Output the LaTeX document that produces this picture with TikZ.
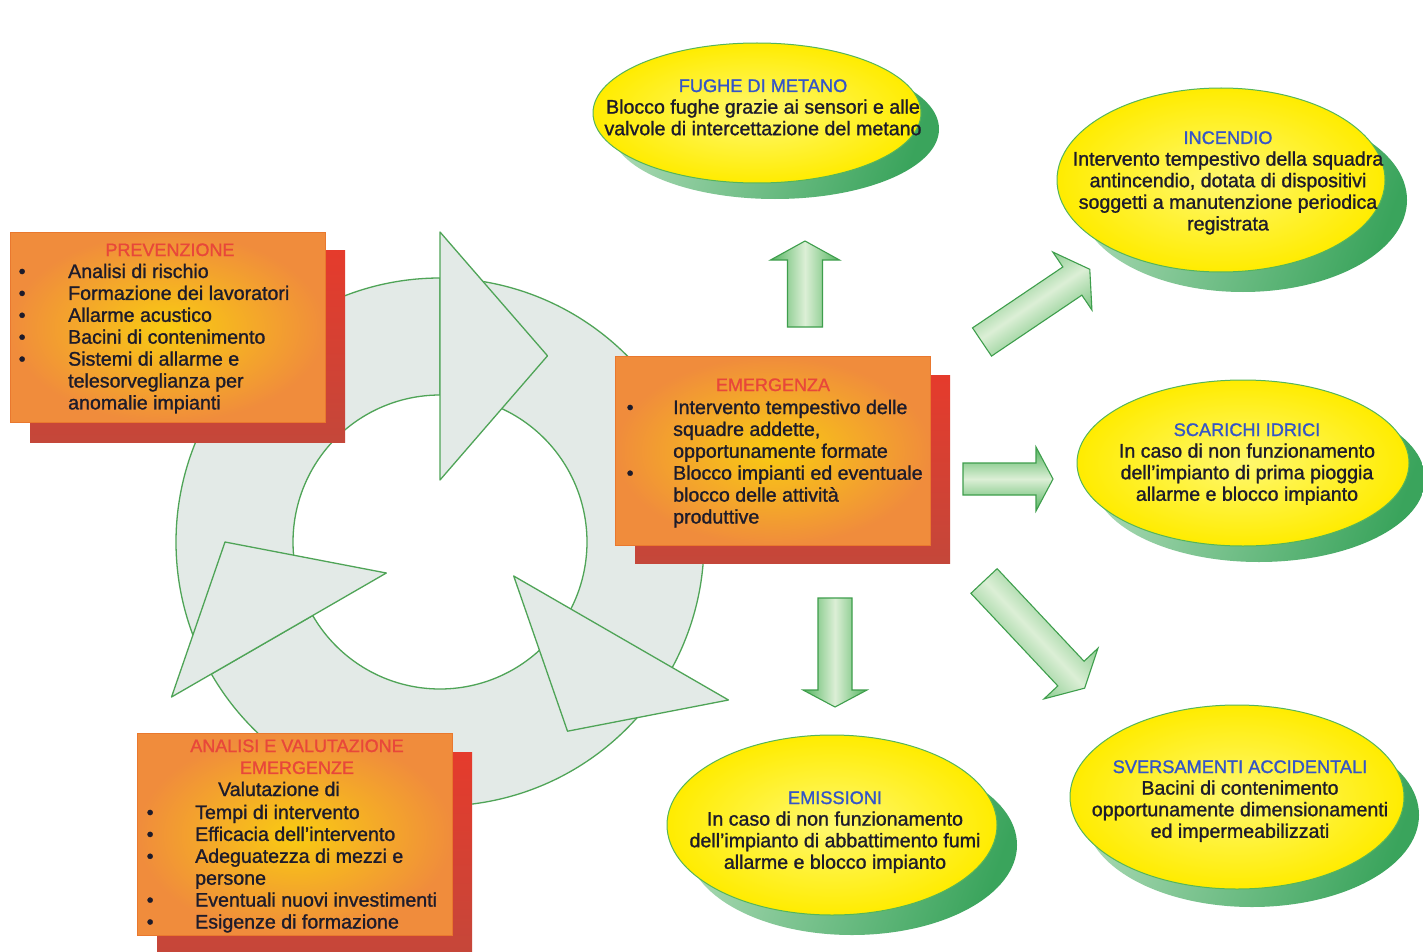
\documentclass[tikz,border=0pt]{standalone}
\usepackage{fontspec}
\setmainfont{Liberation Sans}[FakeBold=1.2]
\usetikzlibrary{calc}
\definecolor{cycfill}{HTML}{E3EAE7}
\definecolor{cycline}{HTML}{4FA457}
\definecolor{boxin}{HTML}{F9CB12}
\definecolor{boxout}{HTML}{F08C3C}
\definecolor{boxline}{HTML}{E9782E}
\definecolor{shadtop}{HTML}{E53B2C}
\definecolor{shadbot}{HTML}{C4473A}
\definecolor{titlered}{HTML}{E8473A}
\definecolor{textdark}{HTML}{1D1B2B}
\definecolor{ellin}{HTML}{FFF870}
\definecolor{ellout}{HTML}{FFEC00}
\definecolor{ellline}{HTML}{55B55A}
\definecolor{eshl}{HTML}{A9D9B3}
\definecolor{eshr}{HTML}{3AA45C}
\definecolor{titleblue}{HTML}{3455C8}
\definecolor{arrg}{HTML}{52B45E}
\definecolor{arrl}{HTML}{DCEFD6}
\definecolor{arrline}{HTML}{3E9E4C}
\tikzset{
  cyc/.style={fill=cycfill, draw=cycline, line width=1.3pt, line join=round},
  boxfront/.style={inner color=boxin, outer color=boxout, draw=boxline, line width=0.8pt, anchor=north west, inner sep=0},
  boxshadow/.style={top color=shadtop, bottom color=shadbot, anchor=north west, inner sep=0},
  ellfront/.style={inner color=ellin, outer color=ellout, draw=ellline, line width=1pt},
  ellshadow/.style={left color=eshl, right color=eshr, shading angle=70},
  blockarrow/.style={left color=arrg, right color=arrg, middle color=arrl, draw=arrline, line width=1.1pt, line join=miter},
  listtext/.style={anchor=base west, inner sep=0, font=\fontsize{19.6}{21.9}\selectfont, text=textdark},
  boxtitle/.style={anchor=base, inner sep=0, font=\fontsize{18}{21.9}\selectfont, text=titlered},
  plaintext/.style={anchor=base, inner sep=0, font=\fontsize{19.6}{21.9}\selectfont, text=textdark},
  elltext/.style={anchor=base, inner sep=0, font=\fontsize{19.6}{21.6}\selectfont, text=textdark}
}
\newcommand\cycband[2]{%
  \path[cyc] ($(C)+({-(#1)}:264)$) arc[start angle={-(#1)}, end angle={-(#2)}, radius=264]
    -- ($(C)+({-(#2)}:147)$) arc[start angle={-(#2)}, end angle={-(#1)}, radius=147] -- cycle;}
\newcommand\cychead[2]{%
  \path[cyc] ($(#1)+({-(#2)}:62)$) -- ($(#1)+({-(#2)}:310)$) -- ($(#1)+({30-(#2)}:215)$) -- cycle;}
% x, y, angle, length, shaft width, head width, head length
\newcommand\blockarr[7]{%
  \path[blockarrow, shading angle=#3] [shift={(#1,#2)}, rotate=#3]
    (0,{-#5/2}) -- ({#4-#7},{-#5/2}) -- ({#4-#7},{-#6/2}) -- (#4,0)
    -- ({#4-#7},{#6/2}) -- ({#4-#7},{#5/2}) -- (0,{#5/2}) -- cycle;}
% cx, cy, rx, ry, dx, dy
\newcommand\gellipse[6]{%
  \path[ellshadow] ({#1+#5},{#2+#6}) ellipse [x radius=#3, y radius=#4];
  \path[ellfront] (#1,#2) ellipse [x radius=#3, y radius=#4];}
\newcommand\etitle[1]{\textcolor{titleblue}{\fontsize{18.2}{21.6}\selectfont #1}}
\begin{document}
\begin{tikzpicture}[x=1pt,y=-1pt]
\useasboundingbox (0,0) rectangle (1423,952);
\clip (0,0) rectangle (1423,952);
\fill[white] (0,0) rectangle (1423,952);

% ---- cycle ----
\coordinate (C) at (440,542);
\coordinate (C2) at (460,545);
\cycband{205}{90}
\cycband{85}{-30}
\cycband{-35}{-150}
\cychead{C}{90}
\cychead{C2}{-30}
\cychead{C}{-150}

% ---- PREVENZIONE ----
\node[boxshadow, minimum width=315, minimum height=192] (prevshadow) at (30,250) {};
\node[boxfront, minimum width=315, minimum height=190] (prevbox) at (10,232) {};
\node[boxtitle] (prevtitle) at (170,256) {PREVENZIONE};
\node[listtext] (prevlist) at (18.5,278) {\begin{tabular}[t]{@{}p{49.5pt}@{}l@{}}
\textbullet & Analisi di rischio\\
\textbullet & Formazione dei lavoratori\\
\textbullet & Allarme acustico\\
\textbullet & Bacini di contenimento\\
\textbullet & Sistemi di allarme e\\
 & telesorveglianza per\\
 & anomalie impianti
\end{tabular}};

% ---- EMERGENZA ----
\node[boxshadow, minimum width=315, minimum height=188] (emeshadow) at (635,375) {};
\node[boxfront, minimum width=315, minimum height=189] (emebox) at (615,356) {};
\node[boxtitle] (emetitle) at (773,391) {EMERGENZA};
\node[listtext] (emelist) at (626.5,414) {\begin{tabular}[t]{@{}p{46.5pt}@{}l@{}}
\textbullet & Intervento tempestivo delle\\
 & squadre addette,\\
 & opportunamente formate\\
\textbullet & Blocco impianti ed eventuale\\
 & blocco delle attività\\
 & produttive
\end{tabular}};

% ---- ANALISI ----
\node[boxshadow, minimum width=315, minimum height=210] (anashadow) at (157,752) {};
\node[boxfront, minimum width=315, minimum height=202] (anabox) at (137,733) {};
\node[boxtitle] (anatitle) at (297,752) {\begin{tabular}[t]{@{}c@{}}ANALISI E VALUTAZIONE\\ EMERGENZE\end{tabular}};
\node[plaintext] (anaval) at (279,796) {Valutazione di};
\node[listtext] (analist) at (146.5,819) {\begin{tabular}[t]{@{}p{48.5pt}@{}l@{}}
\textbullet & Tempi di intervento\\
\textbullet & Efficacia dell'intervento\\
\textbullet & Adeguatezza di mezzi e\\
 & persone\\
\textbullet & Eventuali nuovi investimenti\\
\textbullet & Esigenze di formazione
\end{tabular}};

% ---- block arrows ----
\blockarr{805}{327}{90}{86}{35}{69}{19}
\blockarr{982}{342}{34}{130}{34}{70}{21}
\blockarr{963}{479}{0}{90}{32}{64}{17}
\blockarr{835}{598}{-90}{109}{34}{64}{17}
\blockarr{984}{581}{-46.8}{147}{36}{74}{20}

% ---- ellipses ----
\gellipse{757}{113}{164}{70}{18}{16}
\node[elltext] (fughe) at (763,92) {\begin{tabular}[t]{@{}c@{}}\etitle{FUGHE DI METANO}\\
Blocco fughe grazie ai sensori e alle\\
valvole di intercettazione del metano\end{tabular}};

\gellipse{1221}{180}{164}{92}{22}{20}
\node[elltext] (incendio) at (1228,144) {\begin{tabular}[t]{@{}c@{}}\etitle{INCENDIO}\\
Intervento tempestivo della squadra\\
antincendio, dotata di dispositivi\\
soggetti a manutenzione periodica\\
registrata\end{tabular}};

\gellipse{1243}{463}{166}{83}{16}{16}
\node[elltext] (scarichi) at (1247,436) {\begin{tabular}[t]{@{}c@{}}\etitle{SCARICHI IDRICI}\\
In caso di non funzionamento\\
dell'impianto di prima pioggia\\
allarme e blocco impianto\end{tabular}};

\gellipse{832}{825}{165}{90}{20}{20}
\node[elltext] (emissioni) at (835,804) {\begin{tabular}[t]{@{}c@{}}\etitle{EMISSIONI}\\
In caso di non funzionamento\\
dell'impianto di abbattimento fumi\\
allarme e blocco impianto\end{tabular}};

\gellipse{1237}{797}{167}{92}{15}{18}
\node[elltext] (sversamenti) at (1240,773) {\begin{tabular}[t]{@{}c@{}}\etitle{SVERSAMENTI ACCIDENTALI}\\
Bacini di contenimento\\
opportunamente dimensionamenti\\
ed impermeabilizzati\end{tabular}};
\end{tikzpicture}
\end{document}
